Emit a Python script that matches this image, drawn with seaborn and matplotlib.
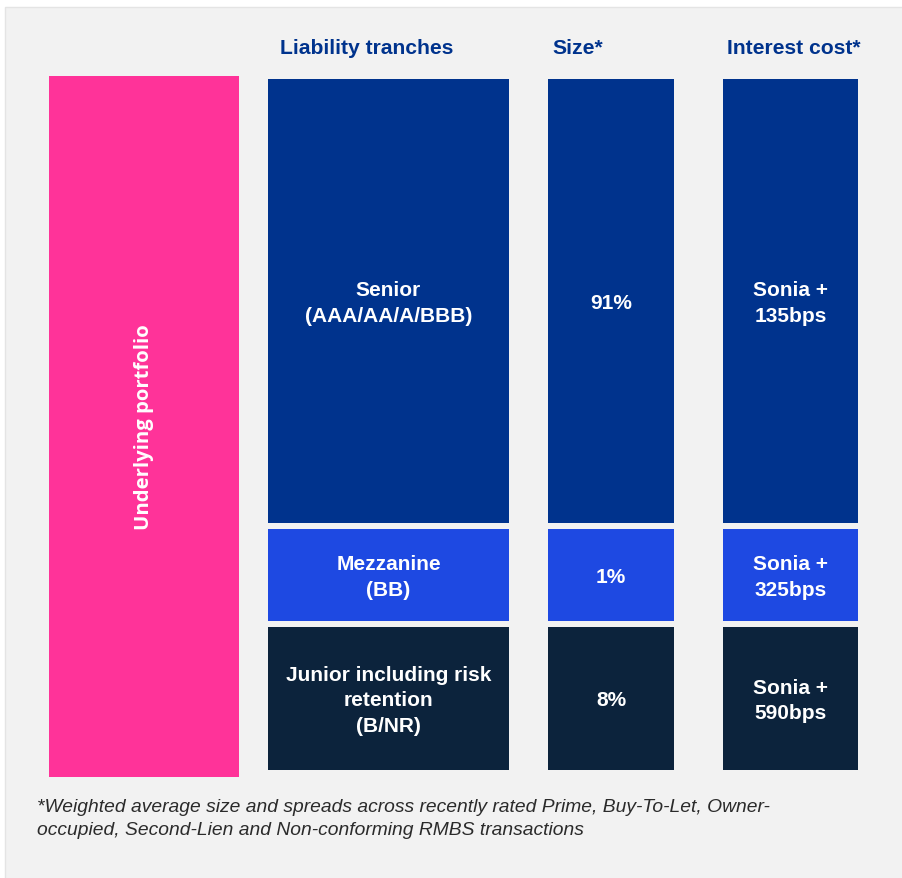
import matplotlib
matplotlib.use("Agg")
import matplotlib.pyplot as plt
from matplotlib.patches import Rectangle
import seaborn as sns

# --- content -------------------------------------------------------------
headers = ["Liability tranches", "Size*", "Interest cost*"]
tranches = ["Senior\n(AAA/AA/A/BBB)", "Mezzanine\n(BB)",
            "Junior including risk\nretention\n(B/NR)"]
size_pct = [91, 1, 8]
spread_bps = [135, 325, 590]
portfolio_label = "Underlying portfolio"
footnote = ("*Weighted average size and spreads across recently rated Prime, Buy-To-Let, Owner-\n"
            "occupied, Second-Lien and Non-conforming RMBS transactions")

# --- styling -------------------------------------------------------------
PINK = "#FF3399"
NAVY = "#00338D"
ROW_COLORS = ["#00338D", "#1E49E2", "#0C233C"]
PANEL = "#F2F2F2"

sns.set_theme(style="white")
plt.rcParams["font.family"] = ["Liberation Sans", "DejaVu Sans"]

W, H = 903, 879
fig = plt.figure(figsize=(W / 100, H / 100), dpi=100)
fig.patch.set_facecolor("white")
ax = fig.add_axes([0, 0, 1, 1])
ax.set_xlim(0, W)
ax.set_ylim(H, 0)
ax.axis("off")

# background panel
ax.add_patch(Rectangle((5, 8), W, H, facecolor=PANEL,
                       edgecolor="#E4E4E4", linewidth=1, zorder=0))

# layout of the diagram (pixel units)
col_left = [268, 548, 723]
col_width = [241, 126, 135]
header_x = [280, 552, 727]
row_top = [80, 530, 628]
row_height = [444, 92, 143]
header_y = 48

# underlying portfolio bar
ax.bar(49 + 95, 701, width=190, bottom=77, color=PINK, linewidth=0, zorder=1)
ax.text(144, 427.5, portfolio_label, rotation=90, color="white",
        fontsize=14.6, fontweight="bold", family=["Open Sans", "DejaVu Sans"],
        ha="center", va="center", zorder=3)

# column cell texts
size_labels = [f"{v}%" for v in size_pct]
cost_labels = [f"Sonia +\n{v}bps" for v in spread_bps]
columns = [tranches, size_labels, cost_labels]

for c, (left, width, head) in enumerate(zip(col_left, col_width, headers)):
    cx = left + width / 2
    ax.text(header_x[c], header_y, head, color=NAVY, fontsize=15.2,
            fontweight="bold", ha="left", va="center")
    ax.bar([cx] * 3, row_height, width=width, bottom=row_top,
           color=ROW_COLORS, linewidth=0, zorder=1)
    for r in range(3):
        cy = row_top[r] + row_height[r] / 2 + 1.5
        ax.text(cx, cy, columns[c][r], color="white", fontsize=15,
                fontweight="bold", ha="center", va="center",
                linespacing=1.45, zorder=3)

# footnote
ax.text(37, 819, footnote, color="#2B2B2B", fontsize=13.9, style="italic",
        ha="left", va="center", linespacing=1.44)

fig.savefig("out.png", dpi=100, facecolor=fig.get_facecolor())
